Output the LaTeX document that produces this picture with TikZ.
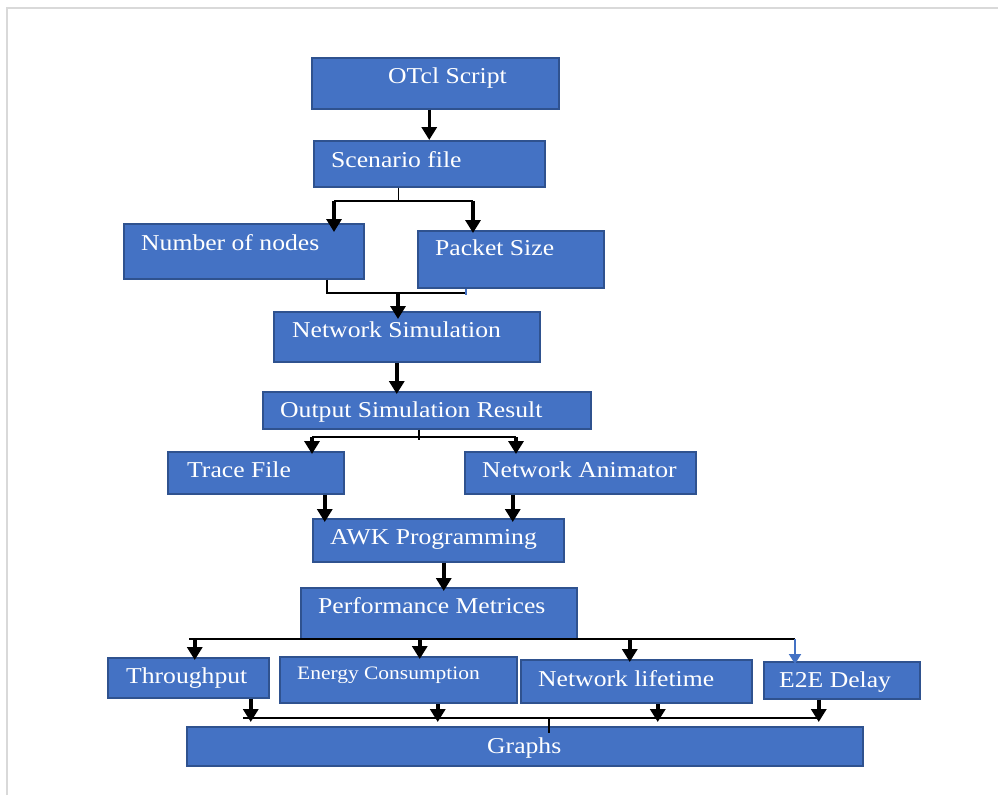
\documentclass[tikz,border=0pt]{standalone}
\usepackage{fontspec}
\setmainfont[FakeStretch=1.13]{Liberation Serif}
\usetikzlibrary{arrows.meta}
\definecolor{boxfill}{HTML}{4472C4}
\definecolor{boxline}{HTML}{2F528F}
\definecolor{framegray}{HTML}{D9D9D9}
\newcommand{\txtsize}{\fontsize{22.7}{26}\selectfont}
\tikzset{
  blk/.style = {draw=boxline, fill=boxfill, line width=1.5pt, inner sep=0pt, anchor=north west},
  lbl/.style = {text=white, font=\txtsize, inner sep=0pt, anchor=base west},
  wire/.style = {draw=black, line width=1.2pt},
  arr/.style = {draw=black, line width=3.5pt, shorten >=-3pt, -{Triangle[width=15pt,length=13pt]}},
}

\begin{document}
\begin{tikzpicture}[x=1pt, y=-1pt]
    \useasboundingbox (0,0) rectangle (998,795);
    \draw[framegray, line width=1.8pt] (7,795) -- (7,8) -- (998,8);

    % boxes
    \node[blk, minimum width=247, minimum height=51] (otcl) at (311,57) {};
    \node[blk, minimum width=231, minimum height=46] (scen) at (313,140) {};
    \node[blk, minimum width=240, minimum height=55] (num) at (123,223) {};
    \node[blk, minimum width=186, minimum height=57] (pkt) at (417,230) {};
    \node[blk, minimum width=266, minimum height=50] (net) at (273,311) {};
    \node[blk, minimum width=328, minimum height=37] (out) at (262,391) {};
    \node[blk, minimum width=176, minimum height=42] (trace) at (167,451) {};
    \node[blk, minimum width=231, minimum height=42] (anim) at (464,451) {};
    \node[blk, minimum width=251, minimum height=43] (awk) at (312,518) {};
    \node[blk, minimum width=276, minimum height=51] (perf) at (300,587) {};
    \node[blk, minimum width=161, minimum height=40] (thr) at (107,657) {};
    \node[blk, minimum width=237, minimum height=46] (energy) at (279,656) {};
    \node[blk, minimum width=231, minimum height=43] (life) at (520,659) {};
    \node[blk, minimum width=156, minimum height=37] (e2e) at (763,661) {};
    \node[blk, minimum width=676, minimum height=39] (graphs) at (186,726) {};

    % texts
    \node[lbl] (otcl-t) at (388,83) {OTcl Script};
    \node[lbl] (scen-t) at (331,167) {Scenario file};
    \node[lbl] (num-t) at (141,250) {Number of nodes};
    \node[lbl] (pkt-t) at (435,255) {Packet Size};
    \node[lbl] (net-t) at (292,337) {Network Simulation};
    \node[lbl] (out-t) at (280,417) {Output Simulation Result};
    \node[lbl] (trace-t) at (187,477) {Trace File};
    \node[lbl] (anim-t) at (482,477) {Network Animator};
    \node[lbl] (awk-t) at (330,544) {AWK Programming};
    \node[lbl] (perf-t) at (318,613) {Performance Metrices};
    \node[lbl] (thr-t) at (126,683) {Throughput};
    \node[lbl, font=\fontsize{19}{22}\selectfont] (energy-t) at (297,679) {Energy Consumption};
    \node[lbl] (life-t) at (538,686) {Network lifetime};
    \node[lbl] (e2e-t) at (779,687) {E2E Delay};
    \node[lbl] (graphs-t) at (487,753) {Graphs};

    % bus points
    \coordinate (busA-l) at (334,201);
    \coordinate (busA-r) at (473,201);
    \coordinate (busB-l) at (327,293);
    \coordinate (busB-r) at (466,293);
    \coordinate (busB-m) at (398,293);
    \coordinate (busC-l) at (312,437);
    \coordinate (busC-r) at (516,437);
    \coordinate (busC-m) at (419,440);
    \coordinate (busD-l) at (189,639);
    \coordinate (busD-r) at (795,639);
    \coordinate (busE-l) at (243,718);
    \coordinate (busE-r) at (818,718);
    \coordinate (busE-m) at (549,718);

    \draw[arr, shorten >=0pt] (otcl.south -| scen.north) -- (scen.north);

    \draw[wire] ([xshift=-31]scen.south) -- ([xshift=-31]scen.south |- busA-l);
    \draw[wire] (busA-l) -- (busA-r);
    \draw[arr, shorten >=-9pt] (busA-l) -- (busA-l |- num.north);
    \draw[arr] (busA-r) -- (busA-r |- pkt.north);

    \draw[wire] (num.south -| busB-l) -- (busB-l) -- (busB-r);
    \draw[wire, draw=boxfill] (pkt.south -| busB-r) -- ([yshift=-2]busB-r);
    \draw[arr, shorten >=-8pt] (busB-m) -- (busB-m |- net.north);

    \draw[arr] ([xshift=-10]net.south) -- ([xshift=-10]net.south |- out.north);

    \draw[wire] (out.south -| busC-m) -- (busC-m);
    \draw[wire] (busC-l) -- (busC-r);
    \draw[arr] (busC-l) -- (busC-l |- trace.north);
    \draw[arr] (busC-r) -- (busC-r |- anim.north);

    \draw[arr, shorten >=-4pt] ([xshift=69]trace.south) -- ([xshift=69]trace.south |- awk.north);
    \draw[arr, shorten >=-4pt] ([xshift=-67.5]anim.south) -- ([xshift=-67.5]anim.south |- awk.north);

    \draw[arr, shorten >=-4pt] ([xshift=5.5]awk.south) -- ([xshift=5.5]awk.south |- perf.north);

    \draw[wire] ([xshift=5]perf.south) -- ([xshift=5]perf.south |- busD-l);
    \draw[wire] (busD-l) -- (busD-r);
    \draw[arr] ([xshift=6.5]thr.north |- busD-l) -- ([xshift=6.5]thr.north);
    \draw[arr] ([xshift=21.5]energy.north |- perf.south) -- ([xshift=21.5]energy.north);
    \draw[arr] ([xshift=-6.5]life.north |- busD-l) -- ([xshift=-6.5]life.north);
    \draw[arr, draw=boxfill, line width=2pt, -{Triangle[width=12pt,length=10pt]}] (busD-r) -- (busD-r |- e2e.north);

    \draw[wire] (busE-l) -- (busE-r);
    \draw[wire] (busE-m) -- ++(0,15);
    \draw[arr, shorten >=4pt] ([xshift=62.5]thr.south) -- ([xshift=62.5]thr.south |- graphs.north);
    \draw[arr, shorten >=4pt] ([xshift=39.5]energy.south) -- ([xshift=39.5]energy.south |- graphs.north);
    \draw[arr, shorten >=4pt] ([xshift=21.5]life.south) -- ([xshift=21.5]life.south |- graphs.north);
    \draw[arr, shorten >=4pt] ([xshift=-23]e2e.south) -- ([xshift=-23]e2e.south |- graphs.north);
\end{tikzpicture}
\end{document}
